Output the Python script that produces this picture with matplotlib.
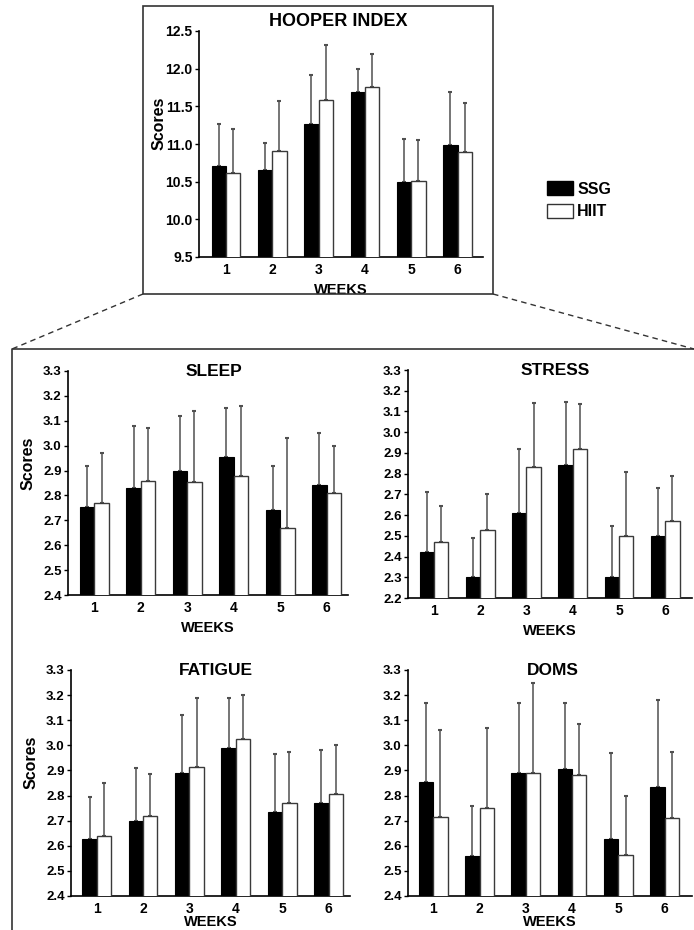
import numpy as np
import matplotlib
matplotlib.use('Agg')
import matplotlib.pyplot as plt
from matplotlib.lines import Line2D
from matplotlib.patches import Patch, Rectangle

plt.rcParams['font.family'] = ['Liberation Sans', 'DejaVu Sans']
plt.rcParams['font.weight'] = 'bold'
plt.rcParams['axes.labelweight'] = 'bold'

weeks = [1, 2, 3, 4, 5, 6]
groups = ['SSG', 'HIIT']

# means and SD (upper bar only)
hooper_ssg = [10.71, 10.66, 11.27, 11.69, 10.49, 10.99]
hooper_ssg_sd = [0.55, 0.35, 0.64, 0.31, 0.58, 0.70]
hooper_hiit = [10.61, 10.91, 11.58, 11.76, 10.51, 10.89]
hooper_hiit_sd = [0.59, 0.66, 0.73, 0.43, 0.54, 0.65]

sleep_ssg = [2.755, 2.83, 2.90, 2.955, 2.74, 2.84]
sleep_ssg_sd = [0.165, 0.25, 0.22, 0.195, 0.18, 0.21]
sleep_hiit = [2.77, 2.86, 2.855, 2.88, 2.67, 2.81]
sleep_hiit_sd = [0.20, 0.21, 0.285, 0.28, 0.36, 0.19]

stress_ssg = [2.42, 2.30, 2.61, 2.84, 2.30, 2.50]
stress_ssg_sd = [0.29, 0.19, 0.31, 0.305, 0.245, 0.23]
stress_hiit = [2.47, 2.53, 2.83, 2.92, 2.50, 2.57]
stress_hiit_sd = [0.175, 0.17, 0.31, 0.215, 0.31, 0.22]

fatigue_ssg = [2.625, 2.70, 2.89, 2.99, 2.735, 2.77]
fatigue_ssg_sd = [0.17, 0.21, 0.23, 0.20, 0.23, 0.21]
fatigue_hiit = [2.64, 2.72, 2.915, 3.025, 2.77, 2.805]
fatigue_hiit_sd = [0.21, 0.165, 0.275, 0.175, 0.205, 0.195]

doms_ssg = [2.855, 2.56, 2.89, 2.905, 2.625, 2.835]
doms_ssg_sd = [0.315, 0.20, 0.28, 0.265, 0.345, 0.345]
doms_hiit = [2.715, 2.75, 2.89, 2.88, 2.565, 2.71]
doms_hiit_sd = [0.345, 0.32, 0.36, 0.205, 0.235, 0.265]

W, H = 694, 930
fig = plt.figure(figsize=(W / 100, H / 100), dpi=100)

# panel: title, ssg, ssg sd, hiit, hiit sd, yticks, pixel box (left, right, top, bottom), xlim, scores label, title x
panels = [
    ('HOOPER INDEX', hooper_ssg, hooper_ssg_sd, hooper_hiit, hooper_hiit_sd,
     np.arange(9.5, 12.51, 0.5), (199, 483, 31, 257), (0.417, 6.55), True, 0.49),
    ('SLEEP', sleep_ssg, sleep_ssg_sd, sleep_hiit, sleep_hiit_sd,
     np.arange(2.4, 3.31, 0.1), (68, 348, 371, 595), (0.434, 6.46), True, 0.52),
    ('STRESS', stress_ssg, stress_ssg_sd, stress_hiit, stress_hiit_sd,
     np.arange(2.2, 3.31, 0.1), (408, 692, 370, 598), (0.437, 6.58), False, 0.52),
    ('FATIGUE', fatigue_ssg, fatigue_ssg_sd, fatigue_hiit, fatigue_hiit_sd,
     np.arange(2.4, 3.31, 0.1), (71, 350, 670, 896), (0.446, 6.46), True, 0.52),
    ('DOMS', doms_ssg, doms_ssg_sd, doms_hiit, doms_hiit_sd,
     np.arange(2.4, 3.31, 0.1), (408, 692, 670, 896), (0.454, 6.59), False, 0.51),
]

bw = 0.31
x = np.array(weeks)
for title, ssg, ssg_sd, hiit, hiit_sd, yt, box, xl, scores, tx in panels:
    l, r, t, b = box
    ax = fig.add_axes([l / W, 1 - b / H, (r - l) / W, (b - t) / H])
    ax.bar(x - bw / 2, ssg, bw, color='black', edgecolor='black', linewidth=0.8, zorder=3)
    ax.bar(x + bw / 2, hiit, bw, color='white', edgecolor='#3a3a3a', linewidth=1.0, zorder=3)
    ax.errorbar(x - bw / 2, ssg, yerr=[np.zeros(6), ssg_sd], fmt='none',
                ecolor='#505050', elinewidth=1.1, capsize=1.5, capthick=1.5, zorder=2)
    ax.errorbar(x + bw / 2, hiit, yerr=[np.zeros(6), hiit_sd], fmt='none',
                ecolor='#505050', elinewidth=1.1, capsize=1.5, capthick=1.5, zorder=2)
    ax.set_ylim(yt[0], yt[-1])
    ax.set_xlim(*xl)
    ax.set_yticks(yt)
    ax.set_yticklabels(['%.1f' % v for v in yt])
    ax.set_xticks(x)
    ax.set_xticklabels([str(w) for w in weeks])
    for s in ['top', 'right']:
        ax.spines[s].set_visible(False)
    for s in ['left', 'bottom']:
        ax.spines[s].set_linewidth(1.2)
    ax.tick_params(axis='y', direction='out', length=3, width=1,
                   labelsize=10 if title == 'HOOPER INDEX' else 9.5, pad=1.5)
    ax.tick_params(axis='x', length=0, labelsize=10, pad=4)
    ax.set_xlabel('WEEKS', fontsize=10.5, fontweight='bold')
    ax.xaxis.set_label_coords(0.5, -(19 if b > 800 else 26) / (b - t))
    if scores:
        ax.set_ylabel('Scores', fontsize=11.5, fontweight='bold')
        ax.yaxis.set_label_coords(-32 / (r - l), 0.59)
    if title == 'HOOPER INDEX':
        ax.text(tx, 1.04, title, transform=ax.transAxes, ha='center', va='center',
                fontsize=13, fontweight='bold')
    else:
        ax.text(tx, 1.0, title, transform=ax.transAxes, ha='center', va='center',
                fontsize=12.5, fontweight='bold')

# frames and zoom lines
fig.add_artist(Rectangle((143 / W, 1 - 294 / H), 350 / W, 288 / H, transform=fig.transFigure,
                         fill=False, edgecolor='#333333', linewidth=1.2))
fig.add_artist(Line2D([143 / W, 12 / W], [1 - 294 / H, 1 - 349 / H], transform=fig.transFigure,
                      color='#333333', linewidth=1.0, linestyle=(0, (4, 3))))
fig.add_artist(Line2D([493 / W, 694 / W], [1 - 294 / H, 1 - 349 / H], transform=fig.transFigure,
                      color='#333333', linewidth=1.0, linestyle=(0, (4, 3))))
fig.add_artist(Line2D([694 / W, 12 / W, 12 / W], [1 - 349 / H, 1 - 349 / H, 0],
                      transform=fig.transFigure, color='#333333', linewidth=1.2))

handles = [Patch(facecolor='black', edgecolor='black'),
           Patch(facecolor='white', edgecolor='#333333', linewidth=1.0)]
fig.legend(handles=handles, labels=groups, loc='upper left',
           bbox_to_anchor=(547 / W, 1 - 181 / H), frameon=False, fontsize=11.5,
           handlelength=1.6, handleheight=1.0, handletextpad=0.3, labelspacing=0.45,
           borderpad=0, borderaxespad=0)

fig.savefig('out.png', dpi=100)
